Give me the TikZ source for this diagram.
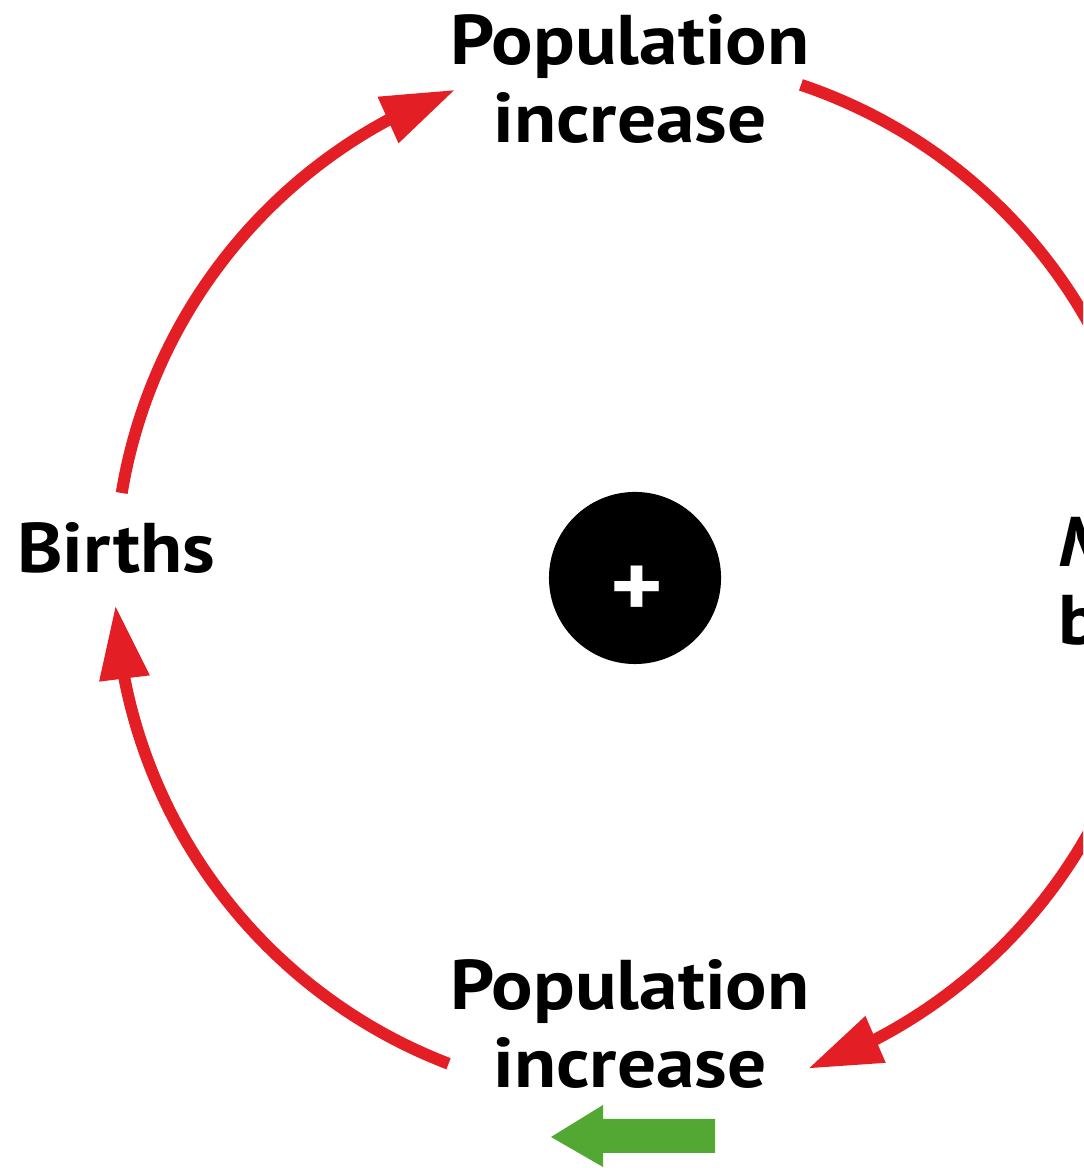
\documentclass[tikz,border=0pt]{standalone}
\usepackage{fontspec}
\setmainfont{PT Sans}[FakeStretch=1.1]
\usetikzlibrary{arrows.meta,bending}
\definecolor{cred}{RGB}{227,30,36}
\definecolor{cgreen}{RGB}{82,168,50}
\begin{document}
\begin{tikzpicture}[x=0.01cm,y=0.01cm,
  lab/.style={font=\fontsize{20}{22.2}\selectfont\bfseries, align=center, text=black, inner sep=0pt},
  loopline/.style={draw=cred, line width=3.4pt},
  looparrow/.style={loopline, -{Triangle[length=21pt,width=13.5pt,flex]}}]
\useasboundingbox (0,0) rectangle (1083,1168);
\clip (0,0) rectangle (1083,1168);
\coordinate (c) at (635,590);
\node[circle, fill=black, minimum size=1.72cm, inner sep=0pt] (hub) at (c) {};
\node[text=white, font=\fontsize{26}{26}\selectfont\bfseries, inner sep=0pt] (plus) at (637,576) {+};
\node[lab] (top) at (630,1089) {Population\\increase};
\node[lab] (bot) at (630,144) {Population\\increase};
\node[lab] (births) at (116,620) {Births};
\node[lab, anchor=west, align=left] (more) at (1058,587) {\textit{M}\\b};
\draw[looparrow] ([shift={(170.6:5.2cm)}]c) arc[start angle=170.6, end angle=110.2, radius=5.2cm];
\draw[loopline] ([shift={(71.4:5.2cm)}]c) arc[start angle=71.4, end angle=20, radius=5.2cm];
\draw[looparrow] ([shift={(-20:5.2cm)}]c) arc[start angle=-20, end angle=-70.6, radius=5.2cm];
\draw[looparrow] ([shift={(-111:5.2cm)}]c) arc[start angle=-111, end angle=-177, radius=5.2cm];
\fill[cgreen] (551,31) -- (603,63) -- (603,49) -- (715,49) -- (715,15) -- (603,15) -- (603,1) -- cycle;
\end{tikzpicture}
\end{document}
